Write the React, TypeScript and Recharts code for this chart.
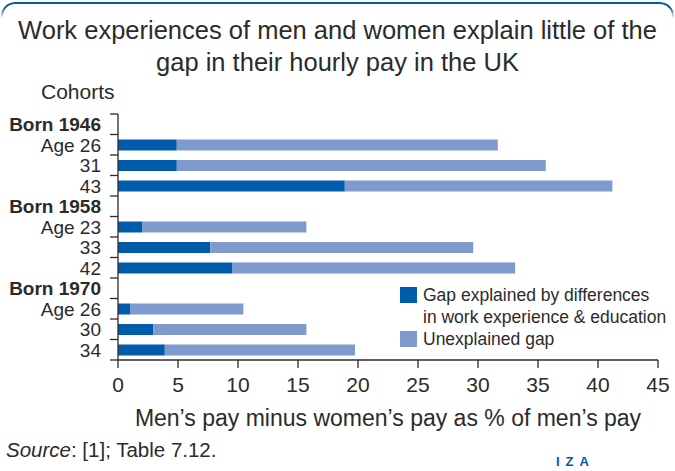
import React from "react";
import { BarChart, Bar, XAxis, YAxis } from "recharts";

const DARK = "#005bab";
const LIGHT = "#7f9acc";
const INK = "#2b2b2b";
const FONT = "'Liberation Sans', Arial, sans-serif";

// rows top to bottom; cohort headers carry no bars
const rowLabels = ["Born 1946", "Age 26", "31", "43", "Born 1958", "Age 23", "33", "42", "Born 1970", "Age 26", "30", "34"];
const headerRows = [true, false, false, false, true, false, false, false, true, false, false, false];
const explained = [null, 4.9, 4.9, 18.9, null, 2.0, 7.7, 9.5, null, 1.0, 2.95, 3.9];
const unexplained = [null, 26.75, 30.75, 22.3, null, 13.7, 21.9, 23.6, null, 9.45, 12.75, 15.85];
const xTicks = [0, 5, 10, 15, 20, 25, 30, 35, 40, 45];

const rows = rowLabels.map((label, i) => ({
  id: i,
  label,
  explained: explained[i],
  unexplained: unexplained[i],
}));

const W = 675;
const H = 471;
const X_H = 30;
const M = { top: 114, right: 17, bottom: 111 - X_H, left: 8 };
const Y_W = 110;
const BAND = (H - M.top - M.bottom - X_H) / rowLabels.length;

function RowTick(props: any) {
  const { x, y, payload, index } = props;
  const i = Number(payload.value);
  const lineX = x + 9;
  return (
    <g>
      <text x={x} y={y} dy={7} textAnchor="end" fontFamily={FONT} fontSize={19}
        fontWeight={headerRows[i] ? 700 : 400} fill={INK}>
        {rowLabels[i]}
      </text>
      <line x1={lineX} x2={lineX + 8} y1={y - BAND / 2} y2={y - BAND / 2} stroke={INK} strokeWidth={1.3} />
      {index === rowLabels.length - 1 && (
        <line x1={lineX} x2={lineX + 8} y1={y + BAND / 2} y2={y + BAND / 2} stroke={INK} strokeWidth={1.3} />
      )}
    </g>
  );
}

function LegendBox() {
  const item = (color: string) => (
    <span style={{ display: "inline-block", width: 17, height: 16, background: color, marginRight: 6, verticalAlign: "-2px" }} />
  );
  return (
    <div style={{ fontFamily: FONT, fontSize: 17.5, color: INK, lineHeight: "22px" }}>
      <div>{item(DARK)}Gap explained by differences</div>
      <div style={{ paddingLeft: 23 }}>in work experience &amp; education</div>
      <div>{item(LIGHT)}Unexplained gap</div>
    </div>
  );
}

export default function App() {
  return (
    <div style={{ position: "absolute", left: 0, top: 0, width: W, height: H, background: "#fff", overflow: "hidden" }}>
      <div style={{
        position: "absolute", left: 1, top: 2, width: W - 6, height: 14,
        borderTop: `2px solid ${DARK}`, borderLeft: `2px solid ${DARK}`, borderRight: `2px solid ${DARK}`,
        borderTopLeftRadius: 14, borderTopRightRadius: 14,
        WebkitMaskImage: "linear-gradient(#000, #000 40%, transparent)",
      }} />
      <div style={{
        position: "absolute", left: 0, top: 14, width: W, textAlign: "center",
        fontFamily: FONT, fontSize: 25.5, lineHeight: "32px", color: INK,
      }}>
        Work experiences of men and women explain little of the<br />gap in their hourly pay in the UK
      </div>
      <div style={{ position: "absolute", left: 41, top: 80, fontFamily: FONT, fontSize: 21, color: INK }}>
        Cohorts
      </div>
      <BarChart width={W} height={H} data={rows} layout="vertical" margin={M} barSize={11}>
        <XAxis type="number" domain={[0, 45]} ticks={xTicks} interval={0} height={X_H}
          axisLine={{ stroke: INK, strokeWidth: 1.3 }} tickLine={{ stroke: INK, strokeWidth: 1.3 }}
          tickSize={8} tickMargin={9}
          tick={{ fontFamily: FONT, fontSize: 21, fill: INK }}
          label={{ value: "Men\u2019s pay minus women\u2019s pay as % of men\u2019s pay", position: "insideBottom",
            offset: -36, fontFamily: FONT, fontSize: 23, fill: INK }} />
        <YAxis type="category" dataKey="id" width={Y_W} interval={0}
          axisLine={{ stroke: INK, strokeWidth: 1.3 }} tickLine={false}
          tickSize={8} tickMargin={9} tick={<RowTick />} />
        <Bar dataKey="explained" stackId="gap" fill={DARK} isAnimationActive={false} />
        <Bar dataKey="unexplained" stackId="gap" fill={LIGHT} isAnimationActive={false} />
      </BarChart>
      <div style={{ position: "absolute", left: 400, top: 284 }}>
        <LegendBox />
      </div>
      <div style={{ position: "absolute", left: 6, top: 438, fontFamily: FONT, fontSize: 20.5, color: INK }}>
        <i>Source</i>: [1]; Table 7.12.
      </div>
      <div style={{
        position: "absolute", left: 556, top: 454, fontFamily: FONT, fontSize: 13, fontWeight: 700,
        color: DARK, letterSpacing: 6,
      }}>
        IZA
      </div>
    </div>
  );
}
